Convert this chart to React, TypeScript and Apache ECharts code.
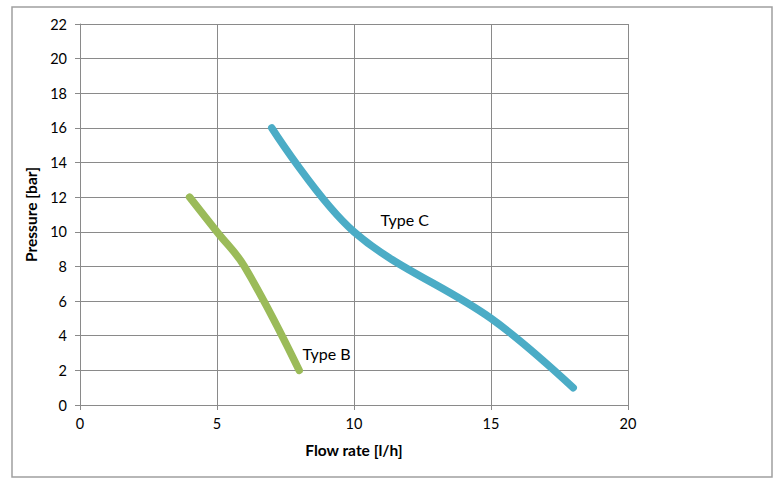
import React, { useEffect, useRef } from "react";
import * as echarts from "echarts";

const typeB: [number, number][] = [
  [4, 12],
  [5, 10],
  [6, 8],
  [8, 2],
];

const typeC: [number, number][] = [
  [7, 16],
  [10, 10],
  [15, 5],
  [18, 1],
];

const labelB: [number, number] = [9.0, 3.0];
const labelC: [number, number] = [11.85, 10.7];

const FONT = "Lato";
const GRID_COLOR = "#8a8a8a";

export default function App() {
  const ref = useRef<HTMLDivElement>(null);
  useEffect(() => {
    if (!ref.current) return;
    const chart = echarts.init(ref.current, undefined, { renderer: "svg" });
    const labelMark = (coord: [number, number], text: string) => ({
      symbol: "circle",
      symbolSize: 0,
      data: [{ coord, value: text }],
      label: {
        show: true,
        position: "inside",
        formatter: text,
        color: "#000",
        fontFamily: FONT,
        fontSize: 16,
      },
    });
    chart.setOption({
      animation: false,
      backgroundColor: "#fff",
      textStyle: { fontFamily: FONT },
      graphic: [
        {
          type: "rect",
          shape: { x: 12, y: 7, width: 760, height: 470 },
          style: { fill: "none", stroke: "#a0a0a0", lineWidth: 1.5 },
          silent: true,
          z: -1,
        },
      ],
      grid: { left: 80, right: 150, top: 24, bottom: 80, containLabel: false },
      xAxis: {
        type: "value",
        min: 0,
        max: 20,
        interval: 5,
        name: "Flow rate [l/h]",
        nameLocation: "middle",
        nameGap: 37,
        nameTextStyle: { fontFamily: FONT, fontWeight: "bold", fontSize: 15.5, color: "#000" },
        axisLine: { show: true, lineStyle: { color: GRID_COLOR, width: 1 } },
        axisTick: { show: true, length: 5, lineStyle: { color: GRID_COLOR } },
        axisLabel: { color: "#000", fontFamily: FONT, fontSize: 14.5, margin: 11 },
        splitLine: { show: true, lineStyle: { color: GRID_COLOR, width: 1 } },
      },
      yAxis: {
        type: "value",
        min: 0,
        max: 22,
        interval: 2,
        name: "Pressure [bar]",
        nameLocation: "middle",
        nameGap: 32,
        nameRotate: 90,
        nameTextStyle: { fontFamily: FONT, fontWeight: "bold", fontSize: 15.5, color: "#000" },
        axisLine: { show: true, lineStyle: { color: GRID_COLOR, width: 1 } },
        axisTick: { show: true, length: 5, lineStyle: { color: GRID_COLOR } },
        axisLabel: { color: "#000", fontFamily: FONT, fontSize: 14.5, margin: 13 },
        splitLine: { show: true, lineStyle: { color: GRID_COLOR, width: 1 } },
      },
      series: [
        {
          name: "Type B",
          type: "line",
          data: typeB,
          smooth: 0.4,
          showSymbol: false,
          lineStyle: { color: "#9BBB59", width: 7.5, cap: "round" },
          itemStyle: { color: "#9BBB59" },
          markPoint: labelMark(labelB, "Type B"),
        },
        {
          name: "Type C",
          type: "line",
          data: typeC,
          smooth: 0.35,
          showSymbol: false,
          lineStyle: { color: "#4BACC6", width: 7.5, cap: "round" },
          itemStyle: { color: "#4BACC6" },
          markPoint: labelMark(labelC, "Type C"),
        },
      ],
    });
    return () => chart.dispose();
  }, []);
  return (
    <div
      ref={ref}
      style={{ position: "fixed", left: 0, top: 0, width: 778, height: 485 }}
    />
  );
}
